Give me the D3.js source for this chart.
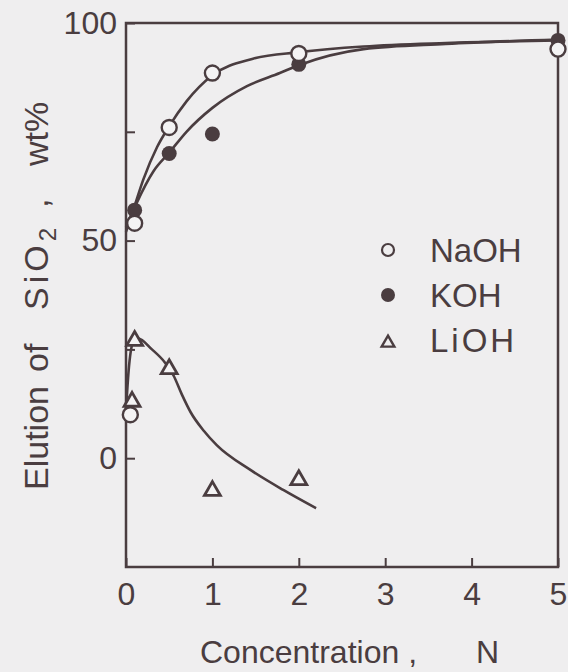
<!DOCTYPE html>
<html>
<head>
<meta charset="utf-8">
<script src="https://cdn.jsdelivr.net/npm/d3@7"></script>
<style>
  body { margin: 0; background: #efeeef; }
  svg { display: block; }
  text { font-family: "Liberation Sans", Arial, sans-serif; fill: #4a3d40; }
</style>
</head>
<body>
<svg width="568" height="672"></svg>
<script>
// measured points (concentration N, SiO2 elution wt%)
var naohX = [0.05, 0.1, 0.5, 1, 2, 5],
    naohY = [10, 54, 76, 88.5, 93, 94];
var kohX = [0.1, 0.5, 1, 2, 5],
    kohY = [57, 70, 74.5, 90.5, 96];
var liohX = [0.07, 0.1, 0.5, 1, 2],
    liohY = [13, 27, 20.5, -7.5, -5];

// hand drawn smooth curves
var naohCurveX = [0, 0.1, 0.2, 0.36, 0.5, 0.7, 1, 1.47, 2, 2.75, 3.7, 5],
    naohCurveY = [52, 58, 64, 71.5, 76.3, 82, 88, 91.8, 93.3, 94.6, 95.4, 96];
var kohCurveX = [0, 0.12, 0.32, 0.5, 0.7, 1, 1.4, 1.78, 2, 2.75, 3.7, 5],
    kohCurveY = [53, 58.5, 66, 70.2, 75, 80.5, 85.5, 88.5, 90.3, 94, 95.2, 96.2];
var liohCurveX = [0, 0.03, 0.08, 0.14, 0.3, 0.45, 0.55, 0.65, 0.75, 0.9, 1.05, 1.44, 1.82, 2.2],
    liohCurveY = [11, 20, 26.5, 27.5, 25, 22, 19, 14.5, 10.5, 6.3, 3, -2.7, -7.3, -11.5];

var xTicks = [0, 1, 2, 3, 4, 5],
    yTicks = [0, 25, 50, 75, 100],
    yLabels = [0, 50, 100];

var ink = "#4a3d40";

var svg = d3.select("svg"),
    margin = {top: 23, right: 10, bottom: 105, left: 126},
    width = +svg.attr("width") - margin.left - margin.right,
    height = +svg.attr("height") - margin.top - margin.bottom;

var x = d3.scaleLinear().domain([0, 5]).range([0, width]),
    y = d3.scaleLinear().domain([-25, 100]).range([height, 0]);

var g = svg.append("g")
    .attr("transform", "translate(" + margin.left + "," + margin.top + ")");

// axes, ticks pointing inwards
var xAxis = g.append("g")
    .attr("transform", "translate(0," + height + ")")
    .call(d3.axisBottom(x).tickValues(xTicks).tickSize(-9).tickPadding(15).tickFormat(d3.format("d")));
var yAxis = g.append("g")
    .call(d3.axisLeft(y).tickValues(yTicks).tickSize(-9).tickPadding(9)
      .tickFormat(function(d) { return yLabels.indexOf(d) >= 0 ? d : ""; }));

[xAxis, yAxis].forEach(function(a) {
  a.select(".domain").remove();
  a.selectAll("line").attr("stroke", ink).attr("stroke-width", 2);
  a.selectAll("text").attr("font-size", 32).style("fill", ink)
    .attr("font-family", "Liberation Sans, Arial, sans-serif");
});

// frame
g.append("rect")
    .attr("width", width).attr("height", height)
    .attr("fill", "none").attr("stroke", ink).attr("stroke-width", 2.5);

// curves
var line = d3.line()
    .x(function(d) { return x(d[0]); })
    .y(function(d) { return y(d[1]); })
    .curve(d3.curveMonotoneX);

[[naohCurveX, naohCurveY], [kohCurveX, kohCurveY], [liohCurveX, liohCurveY]].forEach(function(c) {
  g.append("path")
      .datum(d3.zip(c[0], c[1]))
      .attr("d", line)
      .attr("fill", "none")
      .attr("stroke", ink)
      .attr("stroke-width", 2.6);
});

// markers
var tri = d3.symbol().type(d3.symbolTriangle).size(110);

g.selectAll(".tri")
    .data(d3.zip(liohX, liohY))
  .enter().append("path")
    .attr("class", "tri")
    .attr("d", tri)
    .attr("transform", function(d) { return "translate(" + x(d[0]) + "," + y(d[1]) + ")"; })
    .attr("fill", "#f4f3f4").attr("stroke", ink).attr("stroke-width", 2.8);

g.selectAll(".koh")
    .data(d3.zip(kohX, kohY))
  .enter().append("circle")
    .attr("class", "koh")
    .attr("cx", function(d) { return x(d[0]); })
    .attr("cy", function(d) { return y(d[1]); })
    .attr("r", 7.5)
    .attr("fill", ink);

g.selectAll(".naoh")
    .data(d3.zip(naohX, naohY))
  .enter().append("circle")
    .attr("class", "naoh")
    .attr("cx", function(d) { return x(d[0]); })
    .attr("cy", function(d) { return y(d[1]); })
    .attr("r", 7.5)
    .attr("fill", "#f4f3f4").attr("stroke", ink).attr("stroke-width", 2.4);

// legend
var legend = svg.append("g").attr("transform", "translate(388,0)");
legend.append("circle").attr("cy", 250).attr("r", 6)
    .attr("fill", "none").attr("stroke", ink).attr("stroke-width", 2.2);
legend.append("circle").attr("cy", 295).attr("r", 7).attr("fill", ink);
legend.append("path").attr("d", d3.symbol().type(d3.symbolTriangle).size(70))
    .attr("transform", "translate(0,343)")
    .attr("fill", "none").attr("stroke", ink).attr("stroke-width", 2.4);

legend.selectAll(".lab")
    .data([["NaOH", 262], ["KOH", 307], ["LiOH", 352]])
  .enter().append("text")
    .attr("x", 42)
    .attr("y", function(d) { return d[1]; })
    .attr("font-size", 33)
    .attr("letter-spacing", function(d) { return d[0] == "LiOH" ? 3 : 0; })
    .text(function(d) { return d[0]; });

// axis titles
svg.append("text")
    .attr("x", 200).attr("y", 663)
    .attr("font-size", 32)
    .text("Concentration ,")
  .append("tspan")
    .attr("x", 476)
    .text("N");

var yt = svg.append("text")
    .attr("transform", "translate(48,0) rotate(-90)")
    .attr("font-size", 34);
yt.append("tspan").attr("x", -490).text("Elution");
yt.append("tspan").attr("x", -372).text("of");
yt.append("tspan").attr("x", -310).attr("letter-spacing", 4).text("SiO");
yt.append("tspan").attr("dy", 8).attr("font-size", 24).text("2");
yt.append("tspan").attr("x", -208).attr("dy", -8).text(",");
yt.append("tspan").attr("x", -166).text("wt%");
</script>
</body>
</html>
